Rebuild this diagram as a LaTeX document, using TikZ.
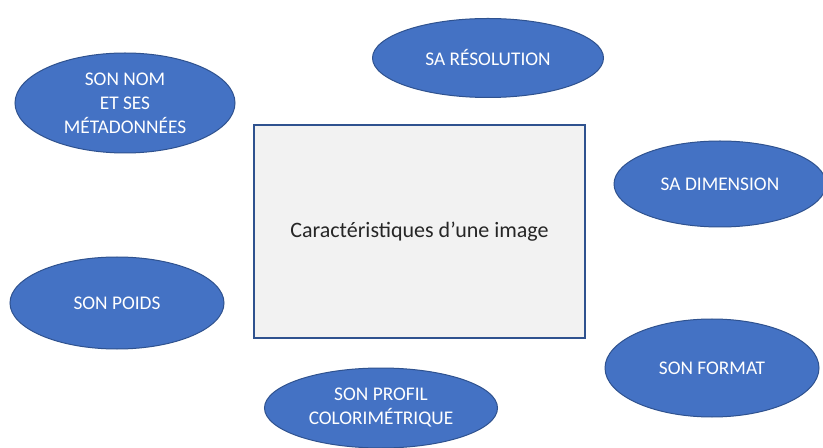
\documentclass[tikz,border=0pt]{standalone}
\usepackage{fontspec}
\setmainfont{Carlito}
\usetikzlibrary{shapes.geometric}
\definecolor{ellfill}{HTML}{4472C4}
\definecolor{elldraw}{HTML}{2F528F}
\definecolor{boxfill}{HTML}{F2F2F2}
\definecolor{boxdraw}{HTML}{2F528F}
\definecolor{boxtext}{HTML}{262626}
\begin{document}
\begin{tikzpicture}[x=0.75pt,y=-0.75pt,
  ell/.style={ellipse, fill=ellfill, draw=elldraw, line width=0.75pt, inner sep=0pt,
    text=white, align=center, font=\fontsize{14.5pt}{18pt}\selectfont},
  mainbox/.style={rectangle, fill=boxfill, draw=boxdraw, line width=0.9pt, inner sep=0pt,
    minimum width=331*0.75pt, minimum height=213*0.75pt, text=boxtext,
    font=\fontsize{16.5pt}{20pt}\selectfont}]
\useasboundingbox (0,0) rectangle (823,448);
\clip (0,0) rectangle (823,448);
\fill[white] (0,0) rectangle (823,448);
\node[mainbox] (main) at (419.5,231.5) {Caractéristiques d’une image};
\node[ell, minimum width=220*0.75pt, minimum height=100*0.75pt] (nom) at (125,103) {SON NOM\\ET SES\\MÉTADONNÉES};
\node[ell, minimum width=231*0.75pt, minimum height=79*0.75pt] (resol) at (488,58) {SA RÉSOLUTION};
\node[ell, minimum width=212*0.75pt, minimum height=86*0.75pt] (dim) at (720,184) {SA DIMENSION};
\node[ell, minimum width=214*0.75pt, minimum height=92*0.75pt] (poids) at (117,303) {SON POIDS};
\node[ell, minimum width=214*0.75pt, minimum height=98*0.75pt] (format) at (712,368) {SON FORMAT};
\node[ell, minimum width=233*0.75pt, minimum height=80*0.75pt] (profil) at (381,408) {SON PROFIL\\COLORIMÉTRIQUE};
\end{tikzpicture}
\end{document}
